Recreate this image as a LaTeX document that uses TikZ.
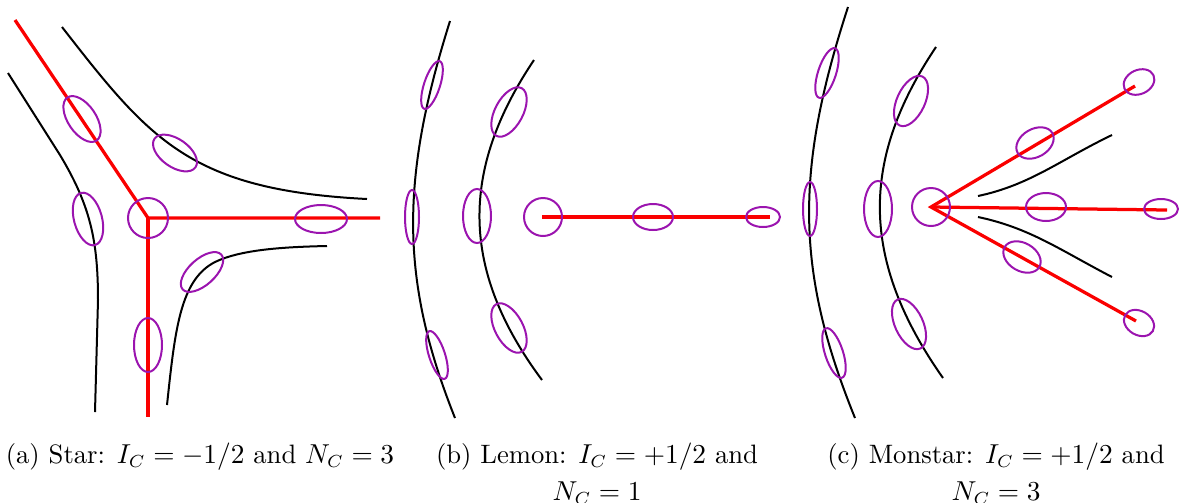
\documentclass[tikz,border=0pt]{standalone}
\usepackage{amsmath}
\usepackage{tikz}
\definecolor{fieldred}{RGB}{250,0,0}
\definecolor{tensorpurple}{RGB}{155,20,175}

\begin{document}
\begin{tikzpicture}[x=0.4pt, y=-0.4pt,
    line/.style={black, line width=0.8pt},
    ridge/.style={fieldred, line width=1.3pt},
    tensor/.style={tensorpurple, line width=0.8pt},
    caption/.style={font=\fontsize{10.65pt}{14.8pt}\selectfont, align=center, anchor=north, inner sep=0pt}
]
    \useasboundingbox (0,0) rectangle (1179,502);
    % (a) star
    \draw[line] (62,27) .. controls (150,140) and (190,190) .. (367,199);
    \draw[line] (8,73) -- (60,155) .. controls (90,205) and (98,240) .. (98,300) -- (95,412);
    \draw[line] (167,405) .. controls (175,330) and (180,280) .. (215,262) .. controls (240,250) and (280,247) .. (327,246);
    \draw[ridge] (15,20) -- (148,218) -- (380,218);
    \draw[ridge] (148,218) -- (148,417);
    \draw[tensor] (148,218) circle [radius=20];
    \foreach \x/\y/\a/\b/\r in {82/119/26/14/-56, 175/153/25/14/-35, 88/219/27/14/-75,
                                 321/219/26/14/0, 202/272/26/13/42, 148/345/27/14/90}
        \draw[tensor, rotate around={\r:(\x,\y)}] (\x,\y) ellipse [x radius=\a, y radius=\b];
    \node[caption] (capA) at (200,442) {(a) Star: $I_C=-1/2$ and $N_C=3$};

    % (b) lemon
    \draw[line] (450,21) .. controls (400,180) and (400,280) .. (455,418);
    \draw[line] (534,60) .. controls (460,170) and (460,270) .. (542,380);
    \draw[ridge] (542,217) -- (770,217);
    \draw[tensor] (543,217) circle [radius=19];
    \foreach \x/\y/\a/\b/\r in {432/85/25/8/72, 412/217/27/7/90, 437/355/25/8/108,
                                 509/112/27/14/62, 477/216/27/14/90, 509/328/27/14/118,
                                 653/217/20/13/0, 763/217/17/10/0}
        \draw[tensor, rotate around={\r:(\x,\y)}] (\x,\y) ellipse [x radius=\a, y radius=\b];
    \node[caption] (capB) at (597,442) {(b) Lemon: $I_C=+1/2$ and\\$N_C=1$};

    % (c) monstar
    \draw[line] (848,7) .. controls (795,170) and (795,270) .. (855,418);
    \draw[line] (936,47) .. controls (860,160) and (860,260) .. (943,378);
    \draw[line] (978,196) .. controls (1030,185) and (1060,160) .. (1112,135);
    \draw[line] (978,217) .. controls (1030,228) and (1060,250) .. (1112,277);
    \draw[ridge] (1135,86) -- (931,207) -- (1136,321);
    \draw[ridge] (931,207) -- (1167,210);
    \draw[tensor] (931,207) circle [radius=19];
    \foreach \x/\y/\a/\b/\r in {827/73/26/9/72, 810/209/27/7/90, 834/353/26/9/108,
                                 911/101/27/14/65, 878/209/28/14/90, 909/324/27/14/115,
                                 1139/82/16/12/25, 1035/143/20/14/30, 1046/207/20/14/0,
                                 1161/209/17/10/0, 1022/257/20/14/-30, 1139/323/16/12/-30}
        \draw[tensor, rotate around={\r:(\x,\y)}] (\x,\y) ellipse [x radius=\a, y radius=\b];
    \node[caption] (capC) at (996,442) {(c) Monstar: $I_C=+1/2$ and\\$N_C=3$};
\end{tikzpicture}
\end{document}
